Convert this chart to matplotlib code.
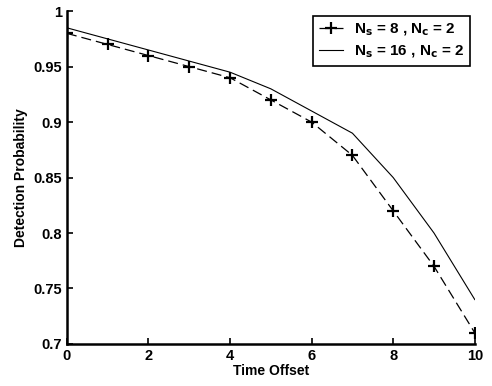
import matplotlib
matplotlib.use("Agg")
import matplotlib.pyplot as plt

plt.rcParams['font.family'] = ['Liberation Sans', 'DejaVu Sans']
plt.rcParams['font.weight'] = 'bold'
plt.rcParams['mathtext.default'] = 'bf'

time_offset = [0, 1, 2, 3, 4, 5, 6, 7, 8, 9, 10]
pd_ns8 = [0.98, 0.97, 0.96, 0.95, 0.94, 0.92, 0.90, 0.87, 0.82, 0.77, 0.71]
pd_ns16 = [0.985, 0.975, 0.965, 0.955, 0.945, 0.93, 0.91, 0.89, 0.85, 0.80, 0.74]

fig = plt.figure(figsize=(4.92, 3.86), dpi=100)
ax = fig.add_axes([0.136, 0.109, 0.829, 0.862])

ax.plot(time_offset, pd_ns8, color='black', linestyle=(0, (8, 4)), linewidth=0.9,
        marker='+', markersize=8, markeredgewidth=1.6,
        label=r'N$_\mathbf{s}$ = 8 , N$_\mathbf{c}$ = 2')
ax.plot(time_offset, pd_ns16, color='black', linestyle='-', linewidth=0.8,
        label=r'N$_\mathbf{s}$ = 16 , N$_\mathbf{c}$ = 2')

ax.set_xlim(0, 10)
ax.set_ylim(0.7, 1.0)
ax.set_xticks([0, 2, 4, 6, 8, 10])
ax.set_yticks([0.7, 0.75, 0.8, 0.85, 0.9, 0.95, 1.0])
ax.set_yticklabels(['0.7', '0.75', '0.8', '0.85', '0.9', '0.95', '1'])
ax.tick_params(direction='in', length=4, width=1.2, labelsize=10.5)
for s in ['top', 'right']:
    ax.spines[s].set_visible(False)
for s in ['left', 'bottom']:
    ax.spines[s].set_linewidth(1.8)

ax.set_xlabel('Time Offset', fontsize=10, fontweight='bold', labelpad=1)
ax.set_ylabel('Detection Probability', fontsize=10, fontweight='bold', labelpad=4)

leg = ax.legend(loc='upper right', bbox_to_anchor=(1.008, 1.01), fancybox=False,
                edgecolor='black', framealpha=1, fontsize=11, handlelength=1.6,
                borderpad=0.4, labelspacing=0.35, handletextpad=0.7)
leg.get_frame().set_linewidth(1.2)

fig.savefig('out.png', dpi=100)
